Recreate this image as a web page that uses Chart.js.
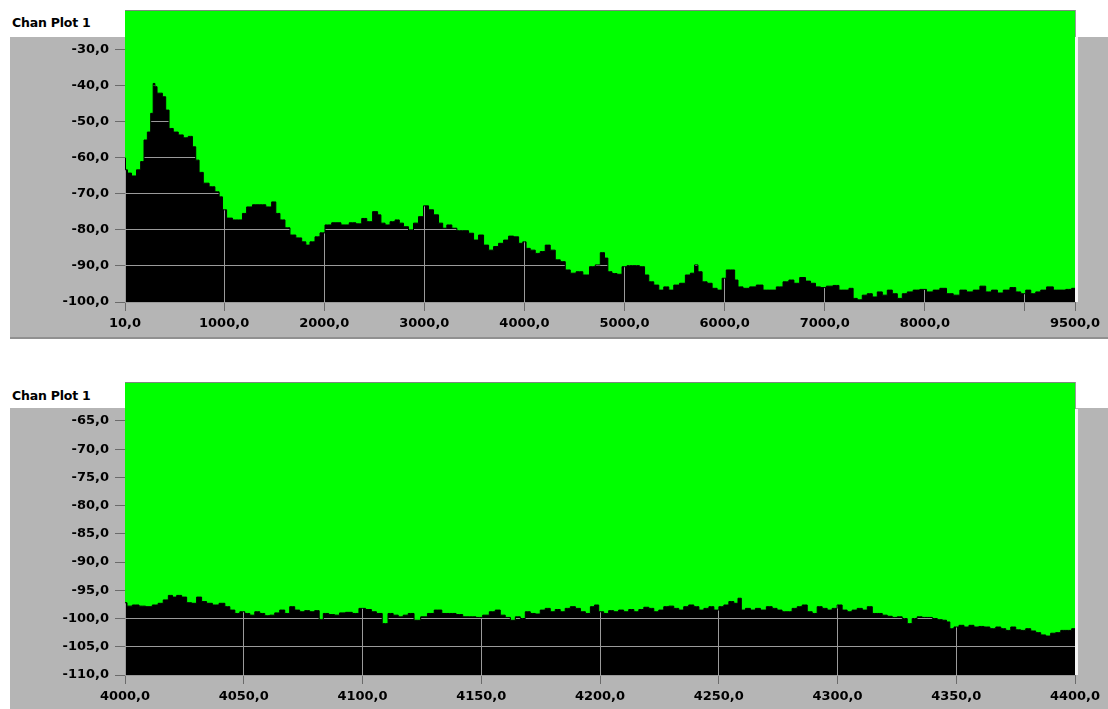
<!DOCTYPE html>
<html>
<head>
<meta charset="utf-8">
<title>Chan Plot 1</title>
<script src="https://cdn.jsdelivr.net/npm/chart.js@4"></script>
<style>
  html, body { margin: 0; padding: 0; background: #fff; }
  body { width: 1108px; height: 709px; position: relative; overflow: hidden; font-family: "DejaVu Sans", sans-serif; }
  .panel { position: absolute; left: 10px; width: 1098px; background: #b5b5b5; }
  .title { position: absolute; left: 12px; font: bold 12.5px "DejaVu Sans", sans-serif; color: #000; letter-spacing: -0.2px; }
  .box { position: absolute; left: 0; width: 1108px; }
</style>
</head>
<body>
<div class="panel" style="top:37px; height:300px; border-bottom:2px solid #909090;"></div>
<div class="title" style="top:15px;">Chan Plot 1</div>
<div class="box" style="top:0; height:340px;"><canvas id="spanChart"></canvas></div>

<div class="panel" style="top:408px; height:301px;"></div>
<div class="title" style="top:388px;">Chan Plot 1</div>
<div class="box" style="top:370px; height:339px;"><canvas id="zoomChart"></canvas></div>

<script>
// full span, 10 .. 9500
const topFreq = [10, 20, 50, 100, 150, 183, 217, 250, 283, 300, 317, 343, 367, 400, 433, 467, 517, 567, 617, 667,
  700, 733, 767, 817, 883, 933, 967, 1000, 1050, 1117, 1167, 1200, 1250, 1317, 1383, 1450, 1500, 1533, 1583, 1633,
  1683, 1750, 1800, 1833, 1883, 1933, 1983, 2033, 2117, 2217, 2283, 2350, 2400, 2450, 2517, 2550, 2583, 2633, 2683, 2733,
  2767, 2817, 2867, 2917, 2967, 3017, 3067, 3117, 3167, 3200, 3250, 3300, 3350, 3417, 3467, 3517, 3567, 3617, 3667, 3717,
  3767, 3817, 3867, 3917, 3967, 4000, 4033, 4083, 4133, 4183, 4233, 4283, 4333, 4383, 4433, 4483, 4550, 4617, 4683, 4733,
  4783, 4817, 4850, 4900, 4950, 5000, 5050, 5117, 5183, 5217, 5267, 5317, 5367, 5417, 5467, 5517, 5583, 5633, 5683, 5717,
  5750, 5800, 5850, 5900, 5950, 6000, 6033, 6083, 6117, 6150, 6217, 6283, 6350, 6417, 6483, 6550, 6617, 6667, 6717, 6783,
  6833, 6883, 6933, 6983, 7050, 7117, 7167, 7217, 7267, 7300, 7350, 7400, 7450, 7500, 7550, 7600, 7650, 7700, 7750, 7800,
  7850, 7917, 7983, 8050, 8117, 8183, 8250, 8317, 8383, 8450, 8517, 8583, 8633, 8700, 8750, 8817, 8883, 8933, 8983, 9033,
  9083, 9133, 9183, 9250, 9317, 9383, 9433, 9500];
const topLevel = [-60, -63.3, -64.2, -65, -63.3, -61, -55, -52.8, -47.6, -39.3, -40.2, -42, -42, -43, -46.7, -51.8, -52.8, -53.6, -54.4, -54,
  -56.9, -60.6, -64, -67, -68, -69.4, -70.8, -74.4, -76.7, -77.2, -77.2, -75.4, -73.6, -73, -73, -73.6, -72.2, -75.4, -77.2, -79.4,
  -81.4, -82.2, -83.3, -84.2, -83.3, -81.9, -80.8, -78.6, -78, -78.6, -78, -78.3, -76.8, -77.7, -74.9, -75.8, -78.1, -78.6, -77.7, -77.2,
  -78.1, -79.1, -80, -78.1, -76.3, -73.3, -74.4, -75.8, -78.1, -79.5, -78.6, -79.5, -80.2, -80.2, -80.9, -82.8, -81.4, -84.2, -85.6, -84.6,
  -83.7, -82.8, -81.7, -81.9, -83.7, -83.3, -85.1, -85.6, -86.5, -86, -84.2, -85.6, -88.3, -88.8, -91.1, -92, -91.6, -92.5, -90.2, -89.7,
  -86.3, -87.8, -91.6, -92.1, -92.3, -90.2, -89.9, -89.9, -90.2, -92.5, -94.4, -95.3, -96.7, -95.8, -96.7, -95.3, -94.8, -92.5, -92, -89.7,
  -91.6, -94.4, -94.8, -96.2, -96.7, -93.4, -91.1, -91.1, -93.9, -95.8, -96.2, -95.8, -95.3, -96.7, -96.7, -95.8, -94.4, -93.9, -94.8, -93.2,
  -94.2, -94.8, -95.8, -96, -95.6, -95.4, -96.7, -96.7, -96.2, -99, -99.4, -98.1, -97.7, -98.6, -97.2, -98.1, -96.7, -97.7, -99, -97.7,
  -97.2, -96.7, -96.5, -97.2, -96.7, -96.2, -97.7, -98.1, -96.7, -97.2, -96.7, -95.6, -97.2, -96.7, -97.5, -96.7, -96, -97.2, -97.7, -96.7,
  -97.7, -97.2, -96.7, -95.8, -96.7, -96.7, -96.5, -96.2];
const topXTicks = [10, 1000, 2000, 3000, 4000, 5000, 6000, 7000, 8000, 9000, 9500];
const topYTicks = [-100, -90, -80, -70, -60, -50, -40, -30];

// zoomed span, 4000 .. 4400
const zoomFreq = [4000, 4001.7, 4004.5, 4007.3, 4010.1, 4012.9, 4015, 4017.2, 4019.3, 4020.7, 4022.8, 4024.9, 4027, 4029.1, 4031.2,
  4033.3, 4035.4, 4038.2, 4041, 4043.1, 4045.2, 4047.3, 4049.4, 4051.5, 4053.6, 4055.7, 4057.8, 4059.9, 4062, 4064.1,
  4066.2, 4068.3, 4070.4, 4072.5, 4074.6, 4076.7, 4078.8, 4080.9, 4082.6, 4084.4, 4087.2, 4089.3, 4091.4, 4094.3, 4097.1,
  4099.9, 4102.7, 4104.8, 4106.9, 4109.7, 4111.8, 4114, 4116.1, 4118.2, 4120.3, 4123.1, 4125.9, 4128.8, 4131.6,
  4135.2, 4138, 4140.8, 4143.6, 4146.4, 4149.2, 4152, 4154.8, 4157, 4159, 4161.2, 4163.3, 4165.4, 4167.5, 4169.6,
  4171.7, 4173.8, 4175.9, 4178, 4180.1, 4182.2, 4184.3, 4186.4, 4188.6, 4190.7, 4192.8, 4194.9, 4197, 4198.4, 4200.5,
  4202.6, 4204.7, 4206.8, 4208.9, 4211, 4213.2, 4215.3, 4217.4, 4219.5, 4221.6, 4223.7, 4225.8, 4227.9, 4230, 4232.1,
  4234.2, 4236.3, 4238.4, 4240.6, 4242.7, 4244.8, 4246.9, 4249, 4251.1, 4253.2, 4255.3, 4257.4, 4258.8, 4260.2, 4262.3,
  4264.4, 4266.5, 4268.6, 4271.5, 4273.5, 4275.6, 4277.7, 4279.8, 4282, 4284.1, 4286.2, 4288.3, 4290.4, 4292.5, 4294.6,
  4296.7, 4298.8, 4300.9, 4303, 4305.1, 4307.2, 4309.4, 4311.5, 4313.6, 4315.7, 4317.8, 4319.9, 4322, 4324.1, 4326.2,
  4328.3, 4330.4, 4332.5, 4334.6, 4336.7, 4338.9, 4341, 4343.1, 4345.2, 4346.6, 4348, 4350.1, 4352.2, 4354.3, 4356.4,
  4358.5, 4360.6, 4362.7, 4365.6, 4367.7, 4369.8, 4371.9, 4374, 4376.1, 4378.2, 4380.3, 4382.4, 4384.5, 4386.6, 4388.7,
  4390.8, 4392.9, 4395.1, 4397.2, 4400];
const zoomLevel = [-97.2, -97.8, -97.6, -97.8, -97.9, -97.6, -97.3, -96.7, -95.9, -96.2, -95.9, -96.2, -97.2, -97.3, -96.2,
  -97, -97.3, -97.6, -97.3, -97.9, -98.5, -99.1, -98.8, -99.1, -99.4, -98.8, -99.1, -99.5, -99.4, -99,
  -98.5, -99.1, -97.9, -98.5, -98.8, -98.6, -98.8, -98.6, -100.2, -99.1, -99.3, -99.4, -99, -98.9, -99.1,
  -98.2, -98.4, -98.8, -99.1, -100.9, -99.1, -99.4, -99.7, -99.4, -99.1, -100.3, -99.7, -99.1, -98.5,
  -99.1, -99.1, -99.3, -99.7, -99.7, -99.8, -99.4, -98.8, -98.5, -99.4, -99.8, -100.3, -99.7, -100, -98.8,
  -99.1, -99.2, -98.5, -98.2, -98.8, -98.4, -98.8, -98.2, -97.9, -98.2, -98.8, -99.1, -97.9, -97.6, -98.8,
  -99.1, -98.6, -98.8, -98.5, -98.8, -98.4, -98.8, -98.4, -98, -98.2, -98.8, -98.5, -97.9, -97.8, -98.2,
  -98.5, -97.9, -97.6, -97.9, -98.5, -98.2, -97.9, -98.5, -97.9, -97.6, -97, -97.3, -96.4, -98.5, -98.2,
  -98.5, -98.2, -98.5, -97.9, -98.2, -98.5, -98.8, -98.8, -98.2, -97.9, -97.6, -98.8, -99.1, -97.9, -98.2,
  -98.5, -98.2, -97.6, -98.5, -98.8, -98.5, -98.2, -98.5, -97.9, -99.1, -99.1, -99.4, -99.6, -99.8, -99.7,
  -100, -100.9, -100, -99.7, -99.8, -99.8, -100, -100.2, -100.3, -100.6, -101.8, -101.5, -101.2, -101.5, -101.2,
  -101.5, -101.4, -101.5, -101.8, -101.5, -101.8, -102.1, -101.5, -102, -102.1, -101.8, -102.2, -102.5, -102.9, -103.1,
  -102.6, -102.5, -102.1, -102.1, -101.8];
const zoomXTicks = [4000, 4050, 4100, 4150, 4200, 4250, 4300, 4350, 4400];
const zoomYTicks = [-110, -105, -100, -95, -90, -85, -80, -75, -70, -65];

const tickFont = { family: "DejaVu Sans", size: 13, weight: "bold", lineHeight: 1.1 };
const fmt = (v) => Number(v).toFixed(1).replace(".", ",");

// black under the trace, grey grid on top of it, green fill above the trace hides the grid
const plotBack = {
  id: "plotBack",
  beforeDraw(chart) {
    const a = chart.chartArea;
    const ctx = chart.ctx;
    ctx.save();
    ctx.fillStyle = "#000";
    ctx.fillRect(a.left, a.top, a.right - a.left, a.bottom - a.top);
    ctx.restore();
  },
  afterDraw(chart) {
    const a = chart.chartArea;
    const ctx = chart.ctx;
    ctx.save();
    ctx.fillStyle = "#7d8a7d";
    ctx.fillRect(a.left, a.top, a.right - a.left, 1);
    ctx.fillStyle = "#f4f4f4";
    ctx.fillRect(a.right, a.top + 27, 3, a.bottom - a.top - 27);
    ctx.restore();
  },
};

function makeChart(id, freq, level, xTicks, yTicks, range, pad, xHeight, hidden) {
  const ctx = document.getElementById(id).getContext("2d");
  return new Chart(ctx, {
    type: "line",
    data: {
      datasets: [
        {
          data: freq.map((f, i) => ({ x: f, y: level[i] })),
          borderColor: "#000",
          borderWidth: 1,
          backgroundColor: "#00ff00",
          fill: "end",
          pointRadius: 0,
          stepped: "middle",
        },
      ],
    },
    options: {
      responsive: true,
      maintainAspectRatio: false,
      animation: false,
      layout: { padding: { left: 0, right: 33, top: pad, bottom: 0 } },
      plugins: { legend: { display: false }, tooltip: { enabled: false } },
      scales: {
        x: {
          type: "linear",
          min: range[0],
          max: range[1],
          afterBuildTicks: (s) => { s.ticks = xTicks.map((v) => ({ value: v })); },
          afterFit: (s) => { s.height = xHeight; s.paddingLeft = 0; s.paddingRight = 0; },
          border: { display: false },
          grid: { color: "#9a9a9a", tickColor: "#6a6a6a", tickLength: 9 },
          ticks: {
            autoSkip: false,
            maxRotation: 0,
            padding: 5,
            color: "#000",
            font: tickFont,
            callback: (v) => (hidden.includes(v) ? "" : fmt(v)),
          },
        },
        y: {
          min: range[2],
          max: range[3],
          afterBuildTicks: (s) => { s.ticks = yTicks.map((v) => ({ value: v })); },
          afterFit: (s) => { s.width = 125; s.paddingTop = 0; s.paddingBottom = 0; },
          border: { display: false },
          grid: { color: "#9a9a9a", tickColor: "#6a6a6a", tickLength: 10 },
          ticks: { padding: 6, color: "#000", font: tickFont, callback: (v) => fmt(v) },
        },
      },
    },
    plugins: [plotBack],
  });
}

makeChart("spanChart", topFreq, topLevel, topXTicks, topYTicks, [10, 9500, -100, -18.9], 10, 38, [9000]);
makeChart("zoomChart", zoomFreq, zoomLevel, zoomXTicks, zoomYTicks, [4000, 4400, -110, -58.1], 12, 34, []);
</script>
</body>
</html>
